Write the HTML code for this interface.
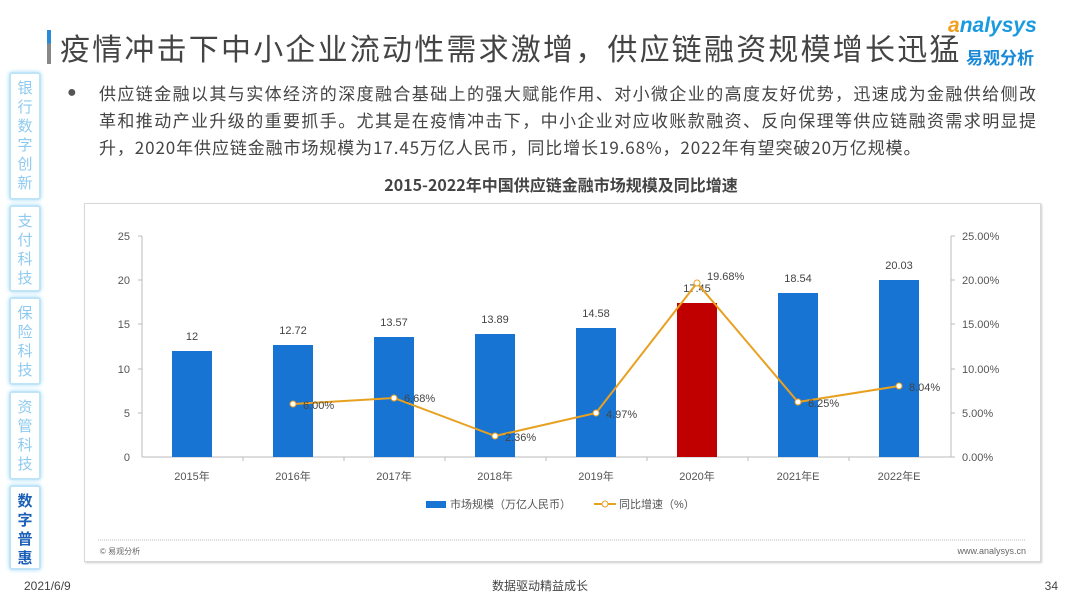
<!DOCTYPE html>
<html><head><meta charset="utf-8"><style>
body{margin:0;width:1080px;height:608px;background:#fff;overflow:hidden;font-family:"Liberation Sans","Noto Sans CJK SC",sans-serif;position:relative}
.t{position:absolute;white-space:nowrap}
.side{position:absolute;left:9px;width:32px;border:2px solid #bfe3f7;border-radius:3px;box-shadow:0 0 4px #a8dcf7;color:#8dcaf0;font-size:15px;line-height:19px;text-align:center;font-family:"Noto Sans CJK SC",sans-serif;box-sizing:border-box;padding-top:4px}
</style></head><body>
<div class="t" style="left:47px;top:30px;width:4px;height:34px;background:linear-gradient(#2a8ad8 40%,#888 40%)"></div>
<div class="t" style="left:60px;top:25px;font-size:30px;color:#444;font-family:'Noto Sans CJK SC',sans-serif;letter-spacing:2.2px">疫情冲击下中小企业流动性需求激增，供应链融资规模增长迅猛</div>
<div class="t" style="left:948px;top:14px;font-size:21px;color:#1a9ae0;font-style:italic;font-weight:bold"><span style="color:#f0a020">a</span>nalysys</div>
<div class="t" style="left:966px;top:44px;font-size:17px;color:#1a8ad8;font-weight:bold;font-family:'Noto Sans CJK SC',sans-serif">易观分析</div>
<div class="side" style="top:72px;height:128px">银<br>行<br>数<br>字<br>创<br>新</div>
<div class="side" style="top:205px;height:87px">支<br>付<br>科<br>技</div>
<div class="side" style="top:297px;height:88px">保<br>险<br>科<br>技</div>
<div class="side" style="top:391px;height:89px">资<br>管<br>科<br>技</div>
<div class="side" style="top:485px;height:85px;color:#1b5fb8;font-weight:bold">数<br>字<br>普<br>惠</div>
<div class="t" style="left:67px;top:84px;font-size:16px;color:#555">●</div>
<div class="t" style="left:99px;top:79px;font-size:17px;line-height:27px;color:#444;font-family:'Noto Sans CJK SC',sans-serif;letter-spacing:1.4px">供应链金融以其与实体经济的深度融合基础上的强大赋能作用、对小微企业的高度友好优势，迅速成为金融供给侧改<br>革和推动产业升级的重要抓手。尤其是在疫情冲击下，中小企业对应收账款融资、反向保理等供应链融资需求明显提<br><span style="letter-spacing:0.9px">升，2020年供应链金融市场规模为17.45万亿人民币，同比增长19.68%，2022年有望突破20万亿规模。</span></div>
<div class="t" style="left:0;width:1080px;text-align:center;top:172px;font-size:16px;font-weight:bold;color:#444;font-family:'Noto Sans CJK SC',sans-serif;padding-left:42px;box-sizing:border-box">2015-2022年中国供应链金融市场规模及同比增速</div>
<div class="t" style="left:84px;top:203px;width:955px;height:357px;border:1px solid #d8d8d8;box-shadow:1px 1px 2px #ccc"></div>
<svg class="t" style="left:0;top:0" width="1080" height="608" font-family="Liberation Sans,Noto Sans CJK SC,sans-serif">
<g stroke="#bbb" stroke-width="1">
<line x1="142" y1="236" x2="142" y2="457"/><line x1="142" y1="457" x2="951" y2="457"/><line x1="951" y1="236" x2="951" y2="457"/>
<line x1="138" y1="236" x2="142" y2="236"/><line x1="138" y1="280" x2="142" y2="280"/><line x1="138" y1="324" x2="142" y2="324"/><line x1="138" y1="369" x2="142" y2="369"/><line x1="138" y1="413" x2="142" y2="413"/>
<line x1="951" y1="236" x2="955" y2="236"/><line x1="951" y1="280" x2="955" y2="280"/><line x1="951" y1="324" x2="955" y2="324"/><line x1="951" y1="369" x2="955" y2="369"/><line x1="951" y1="413" x2="955" y2="413"/><line x1="951" y1="457" x2="955" y2="457"/>
<line x1="243" y1="457" x2="243" y2="461"/><line x1="344" y1="457" x2="344" y2="461"/><line x1="445" y1="457" x2="445" y2="461"/><line x1="546" y1="457" x2="546" y2="461"/><line x1="647" y1="457" x2="647" y2="461"/><line x1="748" y1="457" x2="748" y2="461"/><line x1="849" y1="457" x2="849" y2="461"/>
</g>
<g font-size="11" fill="#555" text-anchor="end">
<text x="130" y="240">25</text><text x="130" y="284">20</text><text x="130" y="328">15</text><text x="130" y="373">10</text><text x="130" y="417">5</text><text x="130" y="461">0</text>
</g>
<g font-size="11" fill="#555">
<text x="962" y="240">25.00%</text><text x="962" y="284">20.00%</text><text x="962" y="328">15.00%</text><text x="962" y="373">10.00%</text><text x="962" y="417">5.00%</text><text x="962" y="461">0.00%</text>
</g>
<g fill="#1874d2">
<rect x="172" y="351" width="40" height="106"/><rect x="273" y="345" width="40" height="112"/><rect x="374" y="337" width="40" height="120"/><rect x="475" y="334" width="40" height="123"/><rect x="576" y="328" width="40" height="129"/><rect x="778" y="293" width="40" height="164"/><rect x="879" y="280" width="40" height="177"/>
</g>
<rect x="677" y="303" width="40" height="154" fill="#c00000"/>
<g font-size="11" fill="#444" text-anchor="middle">
<text x="192" y="340">12</text><text x="293" y="334">12.72</text><text x="394" y="326">13.57</text><text x="495" y="323">13.89</text><text x="596" y="317">14.58</text><text x="697" y="292">17.45</text><text x="798" y="282">18.54</text><text x="899" y="269">20.03</text>
</g>
<polyline fill="none" stroke="#e8a020" stroke-width="2" points="293,404 394,398 495,436 596,413 697,283 798,402 899,386"/>
<g fill="#fff" stroke="#e8a020" stroke-width="1">
<circle cx="293" cy="404" r="3"/><circle cx="394" cy="398" r="3"/><circle cx="495" cy="436" r="3"/><circle cx="596" cy="413" r="3"/><circle cx="697" cy="283" r="3"/><circle cx="798" cy="402" r="3"/><circle cx="899" cy="386" r="3"/>
</g>
<g font-size="11" fill="#444">
<text x="303" y="409">6.00%</text><text x="404" y="402">6.68%</text><text x="505" y="441">2.36%</text><text x="606" y="418">4.97%</text><text x="707" y="280">19.68%</text><text x="808" y="407">6.25%</text><text x="909" y="391">8.04%</text>
</g>
<g font-size="11" fill="#555" text-anchor="middle">
<text x="192" y="480">2015年</text><text x="293" y="480">2016年</text><text x="394" y="480">2017年</text><text x="495" y="480">2018年</text><text x="596" y="480">2019年</text><text x="697" y="480">2020年</text><text x="798" y="480">2021年E</text><text x="899" y="480">2022年E</text>
</g>
<rect x="426" y="501" width="20" height="7" fill="#1874d2"/>
<text x="450" y="508" font-size="11" fill="#555">市场规模（万亿人民币）</text>
<line x1="594" y1="504" x2="616" y2="504" stroke="#e8a020" stroke-width="2"/><circle cx="605" cy="504" r="3" fill="#fff" stroke="#e8a020"/>
<text x="619" y="508" font-size="11" fill="#555">同比增速（%）</text>
<line x1="98" y1="540" x2="1026" y2="540" stroke="#bbb" stroke-dasharray="1,1"/>
<text x="100" y="554" font-size="8" fill="#666">© 易观分析</text>
<text x="1026" y="554" font-size="9" fill="#666" text-anchor="end">www.analysys.cn</text>
<text x="24" y="590" font-size="12" fill="#444">2021/6/9</text>
<text x="540" y="590" font-size="12" fill="#444" text-anchor="middle">数据驱动精益成长</text>
<text x="1058" y="590" font-size="12" fill="#444" text-anchor="end">34</text>
</svg>
</body></html>
